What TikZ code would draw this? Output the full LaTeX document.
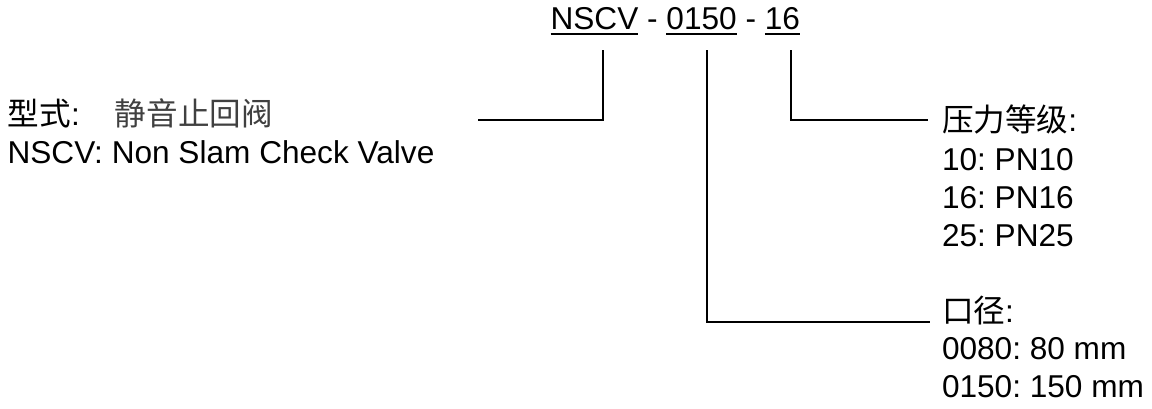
\documentclass[tikz,border=0pt]{standalone}
\usepackage{fontspec}
\setmainfont{Liberation Sans}
\newfontfamily\cjk{Noto Sans CJK SC}
\frenchspacing
\begin{document}
\begin{tikzpicture}[x=1pt,y=-1pt,
  txt/.style={anchor=base west,inner sep=0pt,outer sep=0pt,font=\fontsize{31.6}{38}\selectfont\frenchspacing},
  conn/.style={line width=2.6pt,black},
  uline/.style={line width=2pt,black}]
\useasboundingbox (0,0) rectangle (1152,408);
% title
\node[txt] (t1) at (550.6,29.5) {NSCV};
\node[txt] (t2) at (t1.base east) {\kern0.278em-\kern0.278em};
\node[txt] (t3) at (t2.base east) {0150};
\node[txt] (t4) at (t3.base east) {\kern0.278em-\kern0.278em};
\node[txt] (t5) at (t4.base east) {16};
\draw[uline] ([yshift=-4pt]t1.base west) -- ([yshift=-4pt]t1.base east);
\draw[uline] ([yshift=-4pt]t3.base west) -- ([yshift=-4pt]t3.base east);
\draw[uline] ([yshift=-4pt]t5.base west) -- ([yshift=-4pt]t5.base east);
% left text
\node[txt] (m0) at (8,125) {{\cjk 型式}:\hspace{35pt}{\cjk\color{black!75}静音止回阀}};
\node[txt] (m1) at (7.6,163.3) {NSCV: Non Slam Check Valve};
% right text
\node[txt] (p0) at (942,131.7) {{\cjk 压力等级}:};
\node[txt] (p1) at (942,170) {10: PN10};
\node[txt] (p2) at (942,208.3) {16: PN16};
\node[txt] (p3) at (942,246.6) {25: PN25};
% bottom text
\node[txt] (d0) at (942,322) {{\cjk 口径}:};
\node[txt] (d1) at (942,359.5) {0080: 80 mm};
\node[txt] (d2) at (942,397) {0150: 150 mm};
% connectors
\coordinate (v1) at (603,50);
\coordinate (v2) at (707,50);
\coordinate (v3) at (791,50);
\coordinate (e1) at (478,120);
\coordinate (e2) at (930,322);
\coordinate (e3) at (928,120);
\draw[conn] (v1) |- (e1);
\draw[conn] (v2) |- (e2);
\draw[conn] (v3) |- (e3);
\end{tikzpicture}
\end{document}
